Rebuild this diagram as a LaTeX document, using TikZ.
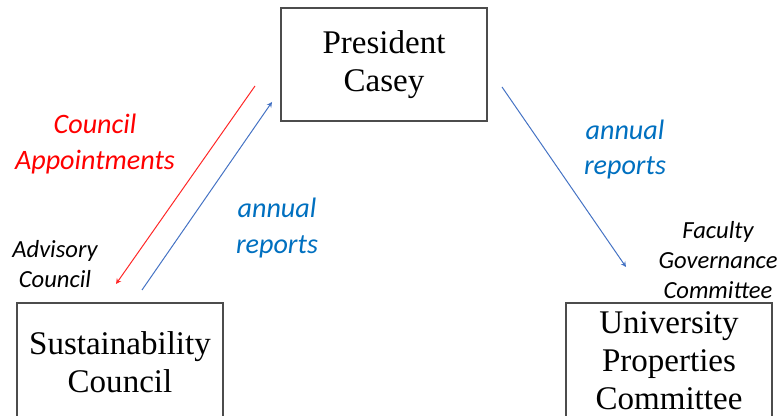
\documentclass[tikz,border=0pt]{standalone}
\usepackage{fontspec}
\setmainfont{Liberation Serif}
\newfontfamily\calibri{Carlito}
\definecolor{reportblue}{RGB}{0,112,192}
\definecolor{arrowblue}{RGB}{68,114,196}
\definecolor{apptred}{RGB}{255,0,0}

\begin{document}
\begin{tikzpicture}[>=stealth,
	box/.style = {draw=black!70, line width=0.8pt, fill=white, align=center, font=\fontsize{23.5}{27}\selectfont, minimum width=5.15cm},
	lbl/.style = {align=center, font=\calibri\itshape\fontsize{20}{25.2}\selectfont},
	note/.style = {align=center, font=\calibri\itshape\fontsize{17.5}{21.2}\selectfont}]
\clip (0,0) rectangle (19.6,10.4);
\fill[white] (0,0) rectangle (19.6,10.4);
% boxes
\node [box, minimum height=2.825cm] (pres) at (9.6,8.7875) {President\\Casey};
\node [box, minimum height=2.95cm] (sust) at (3.0,1.35) {Sustainability\\Council};
\node [box, minimum height=2.9cm] (univ) at (16.725,1.375) {University\\Properties\\Committee};
% free arrow ends
\coordinate (r1) at (6.375,8.25);
\coordinate (r2) at (2.9,3.3);
\coordinate (b1) at (3.55,3.15);
\coordinate (b2) at (6.8,7.85);
\coordinate (c1) at (12.55,8.225);
\coordinate (c2) at (15.65,3.725);
\draw [->, apptred!85!white, line width=0.7pt] (r1) -- (r2);
\draw [->, arrowblue, line width=0.7pt] (b1) -- (b2);
\draw [->, arrowblue, line width=0.7pt] (c1) -- (c2);
% labels
\node [lbl, text=apptred] (appt) at (2.375,6.8) {Council\\Appointments};
\node [lbl, text=reportblue] (rep1) at (6.925,4.7) {annual\\reports};
\node [lbl, text=reportblue] (rep2) at (15.625,6.66) {annual\\reports};
\node [note] (adv) at (1.375,3.8) {Advisory\\Council};
\node [note] (fac) at (17.95,3.9) {Faculty\\Governance\\Committee};
\end{tikzpicture}
\end{document}
